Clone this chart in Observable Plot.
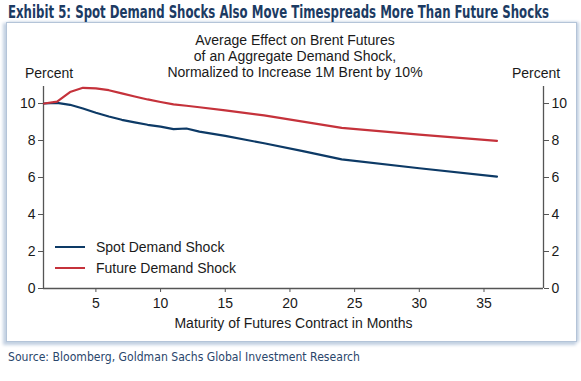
<!DOCTYPE html>
<html><head><meta charset="utf-8">
<script src="https://cdn.jsdelivr.net/npm/d3@7"></script>
<script src="https://cdn.jsdelivr.net/npm/@observablehq/plot@0.6"></script>
<style>
body{margin:0;background:#fff;width:581px;height:381px;overflow:hidden;font-family:Arial,"Liberation Sans",sans-serif;}
#wrap{position:relative;width:581px;height:381px;}
#panel{position:absolute;left:6px;top:22px;width:569px;height:318px;background:#fff;border:1px solid #b4c4d8;box-shadow:-2px 2px 3px 1px #c3d1e2, 2px 0 3px #c3d1e2;}
.t{position:absolute;white-space:nowrap;transform-origin:0 0;}
#title{left:8px;top:2px;font-weight:bold;font-size:17px;font-family:"DejaVu Sans";color:#1c3b63;}
#source{left:8px;top:349px;font-size:12.5px;font-family:"DejaVu Sans";color:#2a466b;}
#chart{position:absolute;left:0;top:22px;}
#sub{position:absolute;left:95px;width:400px;top:32px;text-align:center;font-size:14px;line-height:16px;color:#1a1a1a;}
.pct{position:absolute;top:65px;font-size:14px;color:#1a1a1a;}
#legend{position:absolute;left:55px;top:236px;font-size:14px;color:#1a1a1a;}
#legend div{height:21px;line-height:18px;display:flex;align-items:center;}
#legend span.sw{display:inline-block;width:30px;height:0;border-top:2.4px solid;margin-right:11px;}
</style></head>
<body><div id="wrap">
<div id="panel"></div>
<div id="title" class="t"></div>
<div id="chart"></div>
<div id="sub"></div>
<div class="pct" id="pl" style="left:25px"></div>
<div class="pct" id="pr" style="left:512px"></div>
<div id="legend"></div>
<div id="source" class="t"></div>
</div>
<script>
const titleText = "Exhibit 5: Spot Demand Shocks Also Move Timespreads More Than Future Shocks";
const subtitleLines = ["Average Effect on Brent Futures", "of an Aggregate Demand Shock,", "Normalized to Increase 1M Brent by 10%"];
const yLabel = "Percent";
const xLabel = "Maturity of Futures Contract in Months";
const sourceText = "Source: Bloomberg, Goldman Sachs Global Investment Research";
const seriesNames = ["Spot Demand Shock", "Future Demand Shock"];
const seriesColors = ["#0d3a66", "#c5323b"];

const months = [1, 2, 3, 4, 5, 6, 7, 8, 9, 10, 11, 12, 13, 15, 18, 21, 24, 30, 36];
const spot =   [10.0, 10.03, 9.93, 9.73, 9.5, 9.3, 9.12, 8.98, 8.85, 8.75, 8.62, 8.65, 8.48, 8.25, 7.85, 7.43, 6.98, 6.5, 6.05];
const future = [10.0, 10.1, 10.62, 10.85, 10.82, 10.72, 10.55, 10.38, 10.22, 10.08, 9.95, 9.88, 9.8, 9.63, 9.36, 9.02, 8.68, 8.32, 7.98];

const xDomain = [0.95, 39.6];
const yDomain = [0, 10.92];
const xTicks = [5, 10, 15, 20, 25, 30, 35];
const yTicks = [0, 2, 4, 6, 8, 10];

const data = months.flatMap((m, i) => [
  {m, v: spot[i], s: seriesNames[0]},
  {m, v: future[i], s: seriesNames[1]}
]);

const axisColor = "#555";
const chart = Plot.plot({
  width: 581, height: 320,
  marginLeft: 43, marginRight: 38, marginTop: 64, marginBottom: 54,
  style: {fontFamily: "Arial, 'Liberation Sans', sans-serif", fontSize: "14px", color: "#1a1a1a", background: "transparent", overflow: "visible"},
  x: {domain: xDomain},
  y: {domain: yDomain},
  color: {domain: seriesNames, range: seriesColors},
  marks: [
    Plot.axisY(yTicks, {anchor: "left", tickSize: 5, tickPadding: 3, label: null, stroke: axisColor}),
    Plot.axisY(yTicks, {anchor: "right", tickSize: 5, tickPadding: 3, label: null, stroke: axisColor}),
    Plot.axisX(xTicks, {anchor: "bottom", tickSize: 4, tickPadding: 6, stroke: axisColor, label: xLabel, labelAnchor: "center", labelOffset: 39, labelArrow: "none"}),
    Plot.ruleX([xDomain[0]], {stroke: axisColor, strokeWidth: 1.3}),
    Plot.ruleX([xDomain[1]], {stroke: axisColor, strokeWidth: 1.3}),
    Plot.ruleY([yDomain[0]], {stroke: axisColor, strokeWidth: 1.3}),
    Plot.line(data, {x: "m", y: "v", z: "s", stroke: "s", strokeWidth: 2.2})
  ]
});
document.getElementById("chart").appendChild(chart);

document.getElementById("sub").innerHTML = subtitleLines.join("<br>");
document.getElementById("pl").textContent = yLabel;
document.getElementById("pr").textContent = yLabel;
const lg = document.getElementById("legend");
seriesNames.forEach((n, i) => {
  const d = document.createElement("div");
  const sw = document.createElement("span");
  sw.className = "sw"; sw.style.borderColor = seriesColors[i];
  d.appendChild(sw); d.appendChild(document.createTextNode(n));
  lg.appendChild(d);
});

function fit(id, text, w) {
  const el = document.getElementById(id);
  el.textContent = text;
  const nat = el.getBoundingClientRect().width;
  el.style.transform = `scaleX(${w / nat})`;
}
fit("title", titleText, 541);
fit("source", sourceText, 352);
</script>
</body></html>
